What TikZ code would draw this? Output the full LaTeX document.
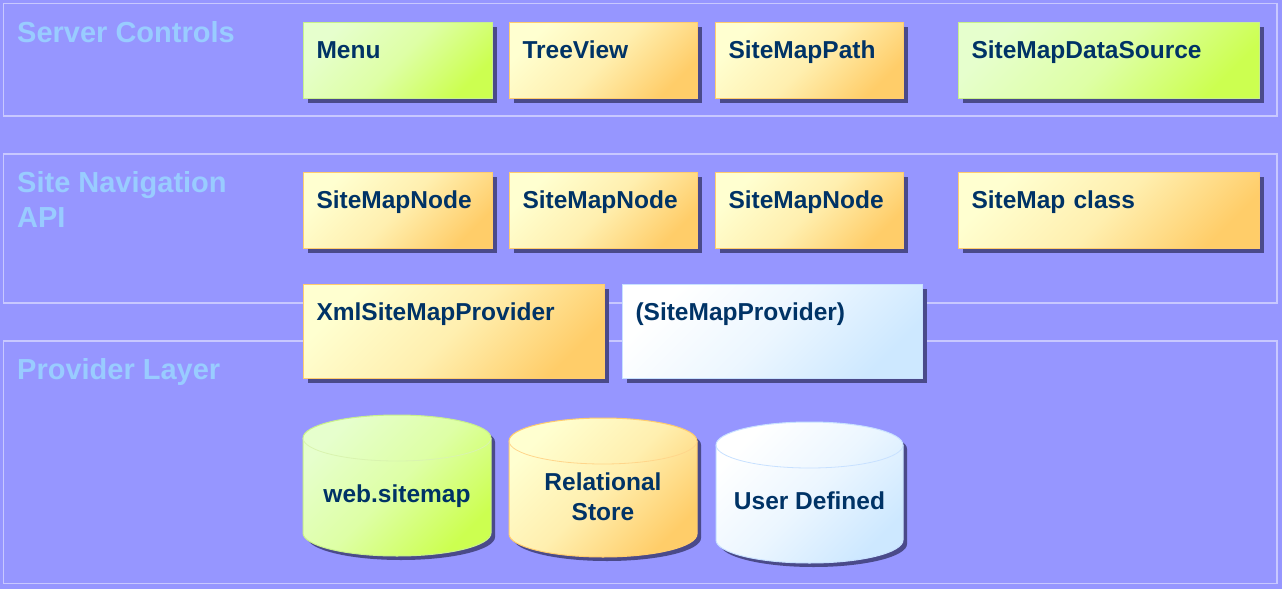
\documentclass[tikz,border=0pt]{standalone}
\usepackage{fontspec}
\setmainfont{Liberation Sans}
\usetikzlibrary{shadows}
\definecolor{bg}{RGB}{150,150,255}
\definecolor{bandline}{RGB}{200,200,255}
\definecolor{lblc}{RGB}{153,204,255}
\definecolor{navy}{RGB}{0,51,102}
\definecolor{shadowc}{RGB}{74,74,138}
\definecolor{gA}{RGB}{230,255,205}
\definecolor{gB}{RGB}{204,255,80}
\definecolor{gL}{RGB}{200,240,140}
\definecolor{yA}{RGB}{255,255,208}
\definecolor{yB}{RGB}{255,205,105}
\definecolor{yL}{RGB}{255,204,110}
\definecolor{bA}{RGB}{255,255,255}
\definecolor{bB}{RGB}{205,232,255}
\definecolor{bL}{RGB}{200,225,255}
\newcommand\mycyl[5]{%
  \fill[shadowc,shift={(4,-4)}] (#1,-#3) -- (#1,-#4)
    arc[start angle=180,end angle=360,x radius=#2,y radius=23]
    -- ({#1+2*#2},-#3)
    arc[start angle=0,end angle=180,x radius=#2,y radius=23] -- cycle;
  \path[#5] (#1,-#3) -- (#1,-#4)
    arc[start angle=180,end angle=360,x radius=#2,y radius=23]
    -- ({#1+2*#2},-#3)
    arc[start angle=0,end angle=180,x radius=#2,y radius=23] -- cycle;
  \draw[#5 rim] (#1,-#3) arc[start angle=180,end angle=360,x radius=#2,y radius=23];
}
\begin{document}
\begin{tikzpicture}[x=1pt,y=1pt,
  band/.style={draw=bandline,line width=1.5pt},
  lbl/.style={text=lblc,font=\bfseries\fontsize{29}{35}\selectfont,inner sep=0pt,anchor=base west,align=left},
  box/.style={anchor=north west,inner xsep=13pt,inner ysep=0pt,text height=35.5pt,align=left,
    font=\bfseries\fontsize{24.5}{29}\selectfont,text=navy,line width=1pt,
    drop shadow={shadow xshift=4pt,shadow yshift=-4pt,fill=shadowc,opacity=1}},
  gfill/.style={draw=gL,line width=1pt,top color=gA,bottom color=gB,middle color=gA!68!gB,shading angle=45},
  yfill/.style={draw=yL,line width=1pt,top color=yA,bottom color=yB,middle color=yA!68!yB,shading angle=45},
  bfill/.style={draw=bL,line width=1pt,top color=bA,bottom color=bB,middle color=bA!62!bB,shading angle=45},
  gfill rim/.style={draw=gL!70!white,line width=0.8pt},
  yfill rim/.style={draw=yL!80!white,line width=0.8pt},
  bfill rim/.style={draw=bL,line width=0.8pt},
  short/.style={text depth=40.5pt},
  tall/.style={text depth=58.5pt},
  cyltext/.style={font=\bfseries\fontsize{24.5}{30}\selectfont,text=navy,align=center,inner sep=0pt}
]
\fill[bg] (0,0) rectangle (1282,-589);
\useasboundingbox (0,0) rectangle (1282,-589);

% bands
\draw[band] (3.5,-3.5) rectangle (1277,-116);
\draw[band] (3.5,-154) rectangle (1277,-303);
\draw[band] (3.5,-341) rectangle (1277,-583.5);

\node[lbl] (lsc) at (17,-42) {Server Controls};
\node[lbl] (lsn) at (17,-227) {Site Navigation\\API};
\node[lbl] (lpl) at (17,-379) {Provider Layer};

% server controls
\node[box,gfill,short,text width=163pt] (menu) at (303,-22) {Menu};
\node[box,yfill,short,text width=162pt] (tree) at (509,-22) {TreeView};
\node[box,yfill,short,text width=162pt] (smp) at (715,-22) {SiteMapPath};
\node[box,gfill,short,text width=275pt] (smds) at (958,-22) {SiteMapDataSource};

% site navigation API
\node[box,yfill,short,text width=163pt] (n1) at (303,-172) {SiteMapNode};
\node[box,yfill,short,text width=162pt] (n2) at (509,-172) {SiteMapNode};
\node[box,yfill,short,text width=162pt] (n3) at (715,-172) {SiteMapNode};
\node[box,yfill,short,text width=275pt] (smc) at (958,-172) {SiteMap class};

% providers
\node[box,yfill,tall,text width=275pt] (xml) at (303,-284) {XmlSiteMapProvider};
\node[box,bfill,tall,text width=274pt] (prov) at (622,-284) {(SiteMapProvider)};

% stores
\mycyl{303}{94}{438}{533}{gfill}
\mycyl{509}{94}{441}{534}{yfill}
\mycyl{716}{93.5}{445}{540}{bfill}
\node[cyltext] (web) at (397,-496) {web.sitemap};
\node[cyltext] (rel) at (603,-497) {Relational\\Store};
\node[cyltext] (usr) at (809.5,-501) {User Defined};
\end{tikzpicture}
\end{document}
